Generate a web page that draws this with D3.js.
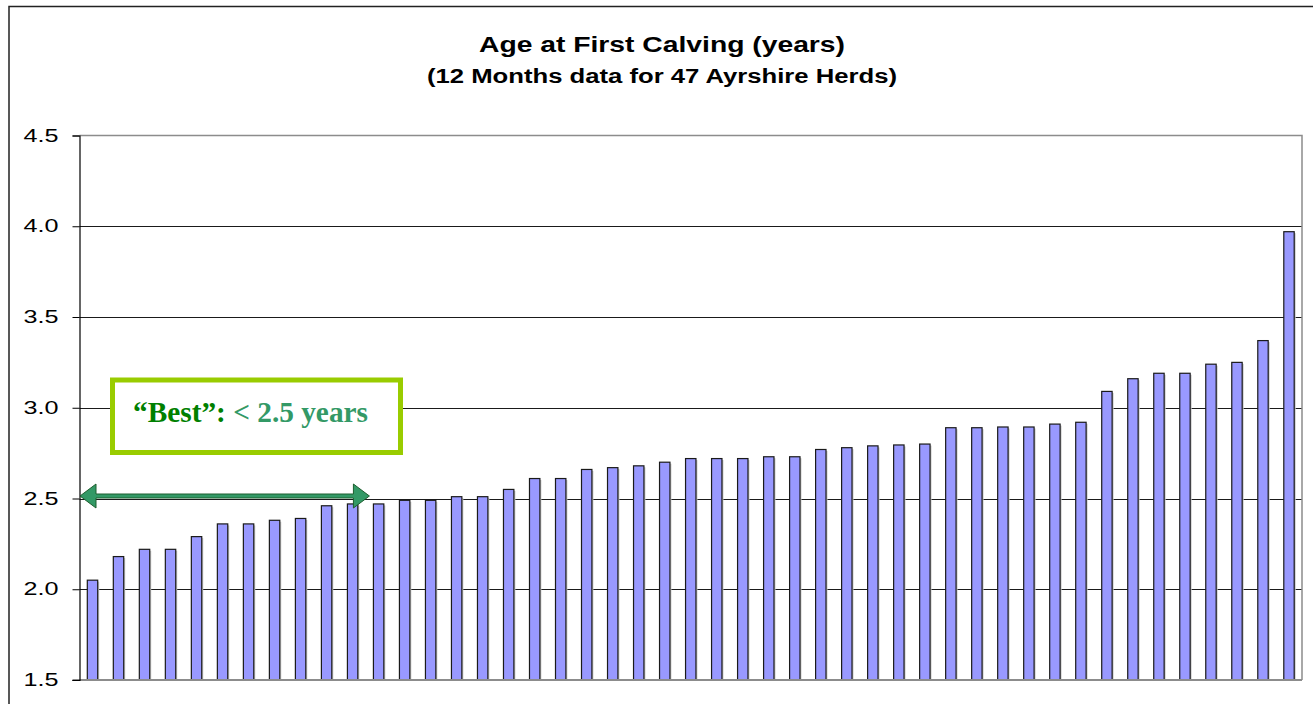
<!DOCTYPE html>
<meta charset="utf-8">
<script src="https://d3js.org/d3.v7.min.js"></script>
<style>
  body { margin: 0; background: #fff; }
</style>
<div id="chart"></div>
<script>

  // age at first calving (years), one bar per herd, sorted
  var ages = [2.05, 2.18, 2.22, 2.22, 2.29, 2.36, 2.36, 2.38, 2.39, 2.46,
              2.47, 2.47, 2.49, 2.49, 2.51, 2.51, 2.55, 2.61, 2.61, 2.66,
              2.67, 2.68, 2.70, 2.72, 2.72, 2.72, 2.73, 2.73, 2.77, 2.78,
              2.79, 2.795, 2.80, 2.89, 2.89, 2.894, 2.894, 2.91, 2.92, 3.09,
              3.16, 3.19, 3.19, 3.24, 3.25, 3.37, 3.97];
  var herds = ages.map(function(d, i) { return i + 1; });
  var yTicks = [1.5, 2.0, 2.5, 3.0, 3.5, 4.0, 4.5];
  var target = 2.5;   // "best" threshold
  var arrowHerd = 12; // arrow reaches just before this herd's bar

  var W = 1313, H = 704;
  var margin = {top: 135.5, right: 11, bottom: 24, left: 79.5};

  var svg = d3.select("#chart").append("svg")
      .attr("width", W)
      .attr("height", H);

  // outer chart frame (runs off the bottom/right of the picture)
  svg.append("rect")
      .attr("x", 9).attr("y", 6.5)
      .attr("width", 1320).attr("height", 740)
      .attr("fill", "none")
      .attr("stroke", "#222")
      .attr("stroke-width", 1.5);

  // titles
  svg.append("text")
      .attr("x", 479).attr("y", 52)
      .attr("textLength", 366).attr("lengthAdjust", "spacingAndGlyphs")
      .style("font-family", "'Liberation Sans', Arial, sans-serif")
      .style("font-weight", "bold")
      .style("font-size", "22px")
      .text("Age at First Calving (years)");
  svg.append("text")
      .attr("x", 427).attr("y", 83)
      .attr("textLength", 470).attr("lengthAdjust", "spacingAndGlyphs")
      .style("font-family", "'Liberation Sans', Arial, sans-serif")
      .style("font-weight", "bold")
      .style("font-size", "20px")
      .text("(12 Months data for 47 Ayrshire Herds)");

  var x = d3.scaleBand()
      .domain(herds)
      .range([margin.left, W - margin.right])
      .paddingInner(0.6)
      .paddingOuter(0.3);

  var y = d3.scaleLinear()
      .domain([1.5, 4.5])
      .range([H - margin.bottom, margin.top]);

  // gridlines
  svg.append("g")
      .selectAll("line")
      .data(yTicks.slice(1, -1))
      .enter().append("line")
      .attr("x1", margin.left).attr("x2", W - margin.right)
      .attr("y1", function(d) { return Math.round(y(d)) + 0.5; })
      .attr("y2", function(d) { return Math.round(y(d)) + 0.5; })
      .attr("stroke", "#1a1a1a")
      .attr("stroke-width", 1);

  // plot border top + right (grey)
  svg.append("path")
      .attr("d", "M" + margin.left + "," + y(4.5) + "H" + (W - margin.right) + "V" + y(1.5))
      .attr("fill", "none")
      .attr("stroke", "#8c8c8c")
      .attr("stroke-width", 1.5);

  // bar shadow
  svg.append("g")
      .selectAll("rect")
      .data(ages)
      .enter().append("rect")
      .attr("x", function(d, i) { return x(herds[i]) + 1.5; })
      .attr("y", function(d) { return y(d) + 1.5; })
      .attr("width", x.bandwidth())
      .attr("height", function(d) { return y(1.5) - y(d) - 1.5; })
      .attr("fill", "#c8c8c8");

  // bars
  svg.append("g")
      .selectAll("rect")
      .data(ages)
      .enter().append("rect")
      .attr("x", function(d, i) { return x(herds[i]); })
      .attr("y", function(d) { return y(d); })
      .attr("width", x.bandwidth())
      .attr("height", function(d) { return y(1.5) - y(d); })
      .attr("fill", "#9999ff")
      .attr("stroke", "#1a1a1a")
      .attr("stroke-width", 1.2);

  // baseline
  svg.append("line")
      .attr("x1", margin.left - 7).attr("x2", W - margin.right)
      .attr("y1", y(1.5)).attr("y2", y(1.5))
      .attr("stroke", "#8c8c8c")
      .attr("stroke-width", 2);

  // y axis
  var yAxis = svg.append("g")
      .attr("transform", "translate(" + margin.left + ",0)")
      .call(d3.axisLeft(y).tickValues(yTicks).tickFormat(d3.format(".1f"))
            .tickSize(7).tickPadding(14));
  yAxis.select(".domain").attr("stroke", "#000").attr("stroke-width", 1.2);
  yAxis.selectAll(".tick line").attr("stroke", "#000");
  yAxis.selectAll("text")
      .attr("textLength", 35).attr("lengthAdjust", "spacingAndGlyphs")
      .attr("dy", "0.3em")
      .style("font-family", "'Liberation Sans', Arial, sans-serif")
      .style("font-size", "19px")
      .style("fill", "#000");

  // double-headed arrow along 2.5
  var ay = y(target) - 2.5;
  var ax0 = margin.left + 0.5, ax1 = x(arrowHerd) - 4;
  var hl = 16, hw = 12, sw = 2;
  svg.append("path")
      .attr("d", "M" + ax0 + "," + ay +
                 "L" + (ax0 + hl) + "," + (ay - hw) +
                 "V" + (ay - sw) +
                 "H" + (ax1 - hl) +
                 "V" + (ay - hw) +
                 "L" + ax1 + "," + ay +
                 "L" + (ax1 - hl) + "," + (ay + hw) +
                 "V" + (ay + sw) +
                 "H" + (ax0 + hl) +
                 "V" + (ay + hw) + "Z")
      .attr("fill", "#339966")
      .attr("stroke", "#1d5e2e")
      .attr("stroke-width", 1);

  // "Best" annotation box
  svg.append("rect")
      .attr("x", 112.5).attr("y", 380)
      .attr("width", 288).attr("height", 72.5)
      .attr("fill", "#fff")
      .attr("stroke", "#99cc00")
      .attr("stroke-width", 5);

  var note = svg.append("text")
      .attr("x", 133).attr("y", 422)
      .attr("textLength", 235).attr("lengthAdjust", "spacingAndGlyphs")
      .style("font-family", "'Liberation Serif', 'Times New Roman', serif")
      .style("font-weight", "bold")
      .style("font-size", "29px");
  note.append("tspan").style("fill", "#008000").text("\u201cBest\u201d:");
  note.append("tspan").style("fill", "#339966").text(" < 2.5 years");

</script>
